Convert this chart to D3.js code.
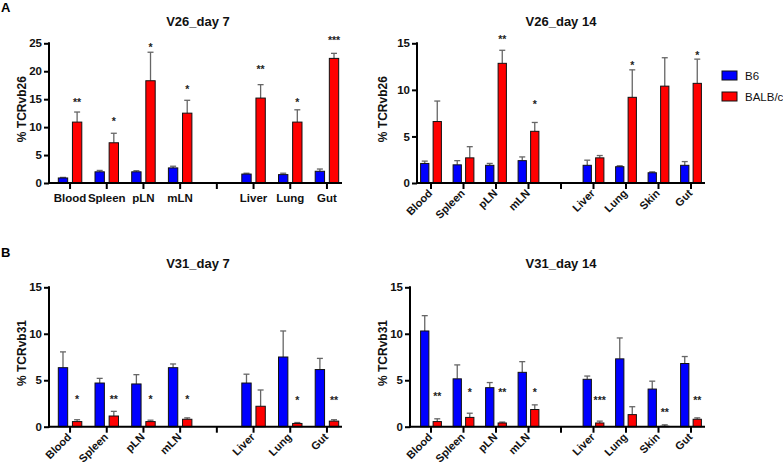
<!DOCTYPE html>
<html><head><meta charset="utf-8">
<script src="https://cdn.jsdelivr.net/npm/d3@7"></script>
<style>
html,body{margin:0;padding:0;background:#fff;}
svg text{font-family:"Liberation Sans",Arial,Helvetica,sans-serif;}
</style></head>
<body><svg id="chart" width="783" height="466"></svg>
<script>
// ---------- data ----------
const catsDay7  = ["Blood","Spleen","pLN","mLN","gap","Liver","Lung","Gut"];
const catsDay14 = ["Blood","Spleen","pLN","mLN","gap","Liver","Lung","Skin","Gut"];
const seriesNames = ["B6","BALB/c"];
const seriesColors = ["#0000ff","#ff0000"];

// V26_day 7
const v26d7_B6      = [0.9, 2.0, 2.0, 2.7, null, 1.6, 1.5, 2.1];
const v26d7_B6Top   = [1.0, 2.25, 2.2, 3.0, null, 1.75, 1.75, 2.5];
const v26d7_BALB    = [10.9, 7.2, 18.3, 12.5, null, 15.2, 10.9, 22.3];
const v26d7_BALBTop = [12.7, 8.9, 23.4, 14.8, null, 17.6, 13.1, 23.2];
const v26d7_Stars   = ["**","*","*","*","","**","*","***"];
const v26d7_StarLv  = [14.8, 11.4, 24.7, 17.2, null, 20.8, 14.8, 25.9];
const v26d7_Ticks   = [0,5,10,15,20,25];

// V26_day 14
const v26d14_B6      = [2.1, 1.95, 1.9, 2.4, null, 1.9, 1.75, 1.1, 1.9];
const v26d14_B6Top   = [2.35, 2.4, 2.1, 2.8, null, 2.45, 1.85, 1.2, 2.3];
const v26d14_BALB    = [6.6, 2.7, 12.85, 5.55, null, 2.7, 9.2, 10.4, 10.7];
const v26d14_BALBTop = [8.8, 3.9, 14.25, 6.5, null, 2.95, 12.15, 13.45, 13.3];
const v26d14_Stars   = ["","","**","*","","","*","","*"];
const v26d14_StarLv  = [null, null, 15.65, 8.7, null, null, 12.9, null, 14.0];
const v26d14_Ticks   = [0,5,10,15];

// V31_day 7
const v31d7_B6      = [6.35, 4.7, 4.6, 6.35, null, 4.7, 7.5, 6.15];
const v31d7_B6Top   = [8.05, 5.2, 5.6, 6.75, null, 5.65, 10.3, 7.35];
const v31d7_BALB    = [0.55, 1.15, 0.55, 0.8, null, 2.2, 0.35, 0.6];
const v31d7_BALBTop = [0.75, 1.65, 0.7, 0.95, null, 3.95, 0.45, 0.75];
const v31d7_Stars   = ["*","**","*","*","","","*","**"];
const v31d7_StarLv  = [3.2, 3.2, 3.2, 3.2, null, null, 3.1, 3.1];
const v31d7_Ticks   = [0,5,10,15];

// V31_day 14
const v31d14_B6      = [10.3, 5.15, 4.2, 5.85, null, 5.1, 7.3, 4.05, 6.8];
const v31d14_B6Top   = [11.95, 6.65, 4.75, 7.0, null, 5.45, 9.55, 4.9, 7.55];
const v31d14_BALB    = [0.55, 1.0, 0.4, 1.85, null, 0.4, 1.3, 0.05, 0.8];
const v31d14_BALBTop = [0.85, 1.45, 0.5, 2.35, null, 0.6, 2.15, 0.2, 0.95];
const v31d14_Stars   = ["**","*","**","*","","***","","**","**"];
const v31d14_StarLv  = [3.5, 4.0, 4.0, 4.0, null, 3.1, null, 1.8, 3.1];
const v31d14_Ticks   = [0,5,10,15];

// ---------- drawing ----------
const svg = d3.select("#chart");

function panel(o){
  const g = svg.append("g");
  const x = d3.scaleBand().domain(o.cats).range(o.xRange).padding(0);
  const y = d3.scaleLinear().domain([0, d3.max(o.ticks)]).range([o.y0, o.yTop]);
  const step = x.step();
  const bw = step*0.255, gap = step*0.065;
  const ctr = c => x(c) + step/2;

  // y axis
  const ya = g.append("g").attr("transform",`translate(${o.axisX},0)`)
    .call(d3.axisLeft(y).tickValues(o.ticks).tickSize(5).tickPadding(2).tickFormat(d3.format("d")));
  ya.select(".domain").remove();
  ya.selectAll(".tick line").attr("stroke","#000").attr("stroke-width",2);
  ya.selectAll(".tick text").attr("font-size",11.5).attr("font-weight","bold").attr("fill","#111");
  g.append("line").attr("x1",o.axisX).attr("x2",o.axisX).attr("y1",o.y0+1).attr("y2",o.yTop-1)
    .attr("stroke","#000").attr("stroke-width",2);

  // x axis
  const xa = g.append("g").attr("transform",`translate(0,${o.y0})`)
    .call(d3.axisBottom(x).tickSize(6).tickFormat(d => d==="gap" ? "" : d));
  xa.select(".domain").remove();
  xa.selectAll(".tick line").attr("stroke","#000").attr("stroke-width",2);
  const tt = xa.selectAll(".tick text").attr("font-weight","bold").attr("fill","#111");
  if(o.rotate){
    tt.attr("font-size",11).attr("text-anchor","end").attr("dy",null).attr("y",null)
      .attr("transform","translate(2,11) rotate(-45)");
  } else {
    tt.attr("font-size",11.5).attr("y",9).attr("dy","0.9em");
  }

  // bars
  const series = [
    {vals:o.b6, tops:o.b6Top, color:seriesColors[0], off:-gap-bw},
    {vals:o.balb, tops:o.balbTop, color:seriesColors[1], off:gap}
  ];
  series.forEach(s=>{
    const idx = o.cats.map((c,i)=>i).filter(i=>s.vals[i]!=null);
    g.append("g").selectAll("line").data(idx).join("line")
      .attr("x1",i=>ctr(o.cats[i])+s.off+bw/2).attr("x2",i=>ctr(o.cats[i])+s.off+bw/2)
      .attr("y1",i=>y(s.vals[i])).attr("y2",i=>y(s.tops[i]))
      .attr("stroke","#666").attr("stroke-width",1.3);
    g.append("g").selectAll("line").data(idx).join("line")
      .attr("x1",i=>ctr(o.cats[i])+s.off+bw/2-3).attr("x2",i=>ctr(o.cats[i])+s.off+bw/2+3)
      .attr("y1",i=>y(s.tops[i])).attr("y2",i=>y(s.tops[i]))
      .attr("stroke","#666").attr("stroke-width",1.3);
    g.append("g").selectAll("rect").data(idx).join("rect")
      .attr("x",i=>ctr(o.cats[i])+s.off).attr("width",bw)
      .attr("y",i=>y(s.vals[i])).attr("height",i=>Math.max(0,o.y0-y(s.vals[i])))
      .attr("fill",s.color).attr("stroke","#111").attr("stroke-width",1);
  });

  // stars
  const sidx = o.cats.map((c,i)=>i).filter(i=>o.stars[i]);
  g.append("g").selectAll("text").data(sidx).join("text")
    .attr("x",i=>ctr(o.cats[i])+gap+bw/2).attr("y",i=>y(o.starLv[i])+6)
    .attr("text-anchor","middle").attr("font-size",10.5).attr("font-weight","bold").attr("fill","#222")
    .text(i=>o.stars[i]);

  // x axis line on top
  g.append("line").attr("x1",o.axisX-1).attr("x2",o.xEnd).attr("y1",o.y0).attr("y2",o.y0)
    .attr("stroke","#000").attr("stroke-width",2);

  // title
  svg.append("text").attr("x",o.titleX).attr("y",o.titleY).attr("text-anchor","middle")
    .attr("font-size",13).attr("font-weight","bold").attr("fill","#111").text(o.title);
  // y label
  svg.append("text").attr("transform",`translate(${o.ylabX},${(o.y0+o.yTop)/2-4}) rotate(-90)`)
    .attr("text-anchor","middle").attr("font-size",12).attr("font-weight","bold").attr("fill","#111")
    .text(o.ylab);
}

panel({cats:catsDay7, xRange:[51.7,345.3], axisX:49, xEnd:342, y0:183, yTop:43.3, ticks:v26d7_Ticks,
  b6:v26d7_B6, b6Top:v26d7_B6Top, balb:v26d7_BALB, balbTop:v26d7_BALBTop, stars:v26d7_Stars, starLv:v26d7_StarLv,
  rotate:false, title:"V26_day 7", titleX:198, titleY:26, ylab:"% TCRvb26", ylabX:26});
panel({cats:catsDay14, xRange:[414.75,707.25], axisX:417, xEnd:705, y0:183, yTop:43.3, ticks:v26d14_Ticks,
  b6:v26d14_B6, b6Top:v26d14_B6Top, balb:v26d14_BALB, balbTop:v26d14_BALBTop, stars:v26d14_Stars, starLv:v26d14_StarLv,
  rotate:true, title:"V26_day 14", titleX:561, titleY:26, ylab:"% TCRvb26", ylabX:387});
panel({cats:catsDay7, xRange:[51.7,345.3], axisX:49, xEnd:342, y0:426.7, yTop:287.3, ticks:v31d7_Ticks,
  b6:v31d7_B6, b6Top:v31d7_B6Top, balb:v31d7_BALB, balbTop:v31d7_BALBTop, stars:v31d7_Stars, starLv:v31d7_StarLv,
  rotate:true, title:"V31_day 7", titleX:198, titleY:268, ylab:"% TCRvb31", ylabX:26});
panel({cats:catsDay14, xRange:[414.75,707.25], axisX:410, xEnd:705, y0:426.7, yTop:287.3, ticks:v31d14_Ticks,
  b6:v31d14_B6, b6Top:v31d14_B6Top, balb:v31d14_BALB, balbTop:v31d14_BALBTop, stars:v31d14_Stars, starLv:v31d14_StarLv,
  rotate:true, title:"V31_day 14", titleX:561, titleY:268, ylab:"% TCRvb31", ylabX:387});

// panel letters
svg.append("text").attr("x",1).attr("y",12).attr("font-size",13).attr("font-weight","bold").text("A");
svg.append("text").attr("x",1).attr("y",257).attr("font-size",13).attr("font-weight","bold").text("B");

// legend
const leg = svg.append("g");
seriesNames.forEach((n,i)=>{
  leg.append("rect").attr("x",722).attr("y",71+i*21).attr("width",15).attr("height",9)
    .attr("fill",seriesColors[i]).attr("stroke","#111").attr("stroke-width",1);
  leg.append("text").attr("x",745).attr("y",80+i*21).attr("font-size",11.5).attr("fill","#111").text(n);
});
</script></body></html>
